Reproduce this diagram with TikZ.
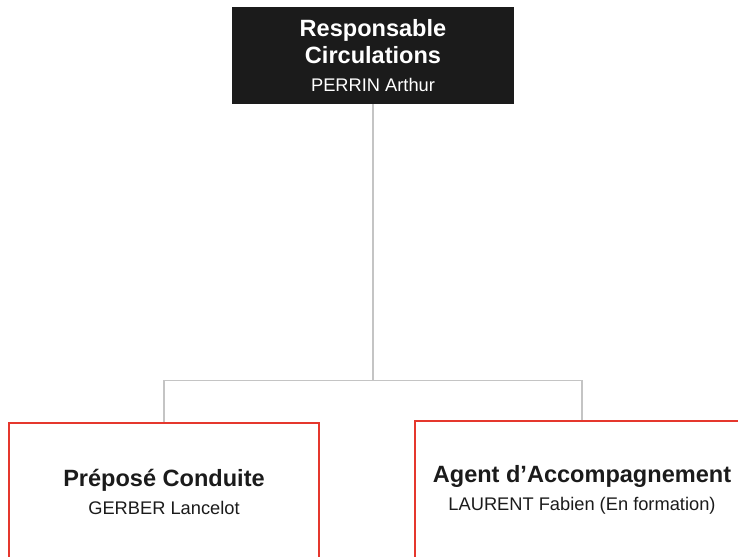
\documentclass[tikz,border=0pt]{standalone}
\usepackage{fontspec}
\setmainfont{Liberation Sans}
\usetikzlibrary{positioning}
\definecolor{noir}{HTML}{1B1B1B}
\definecolor{rouge}{HTML}{E5372D}
\definecolor{gris}{HTML}{C4C4C4}
\newcommand{\nom}[1]{{\fontsize{10.4}{15.7}\selectfont #1}}

\begin{document}
\begin{tikzpicture}[x=0.02cm,y=-0.02cm,
  chefbox/.style={fill=noir,text=white,minimum width=5.64cm,minimum height=1.94cm,align=center,
    font=\fontsize{13.4}{15.7}\selectfont},
  postebox/.style={draw=rouge,line width=1.1pt,text=noir,minimum height=2.76cm,align=center,
    font=\fontsize{13.4}{15.7}\selectfont},
  lien/.style={draw=gris,line width=0.85pt}]
\useasboundingbox (0,0) rectangle (738,556);
\clip (0,0) rectangle (738,556);
% chef de service
\node[chefbox] (resp) at (373,55.5) {\textbf{Responsable}\\\textbf{Circulations}\\\nom{PERRIN Arthur}};
% postes
\node[postebox,minimum width=6.2cm] (conduite) at (164,492) {\textbf{Préposé Conduite}\\\nom{GERBER Lancelot}};
\node[postebox,minimum width=6.68cm] (accomp) at (582,490) {\textbf{Agent d’Accompagnement}\\\nom{LAURENT Fabien (En formation)}};
% liens
\coordinate (bus) at (373,380.5);
\draw[lien] (resp.south) -- (bus) -| (conduite.north);
\draw[lien] (bus) -| (accomp.north);
\end{tikzpicture}
\end{document}
